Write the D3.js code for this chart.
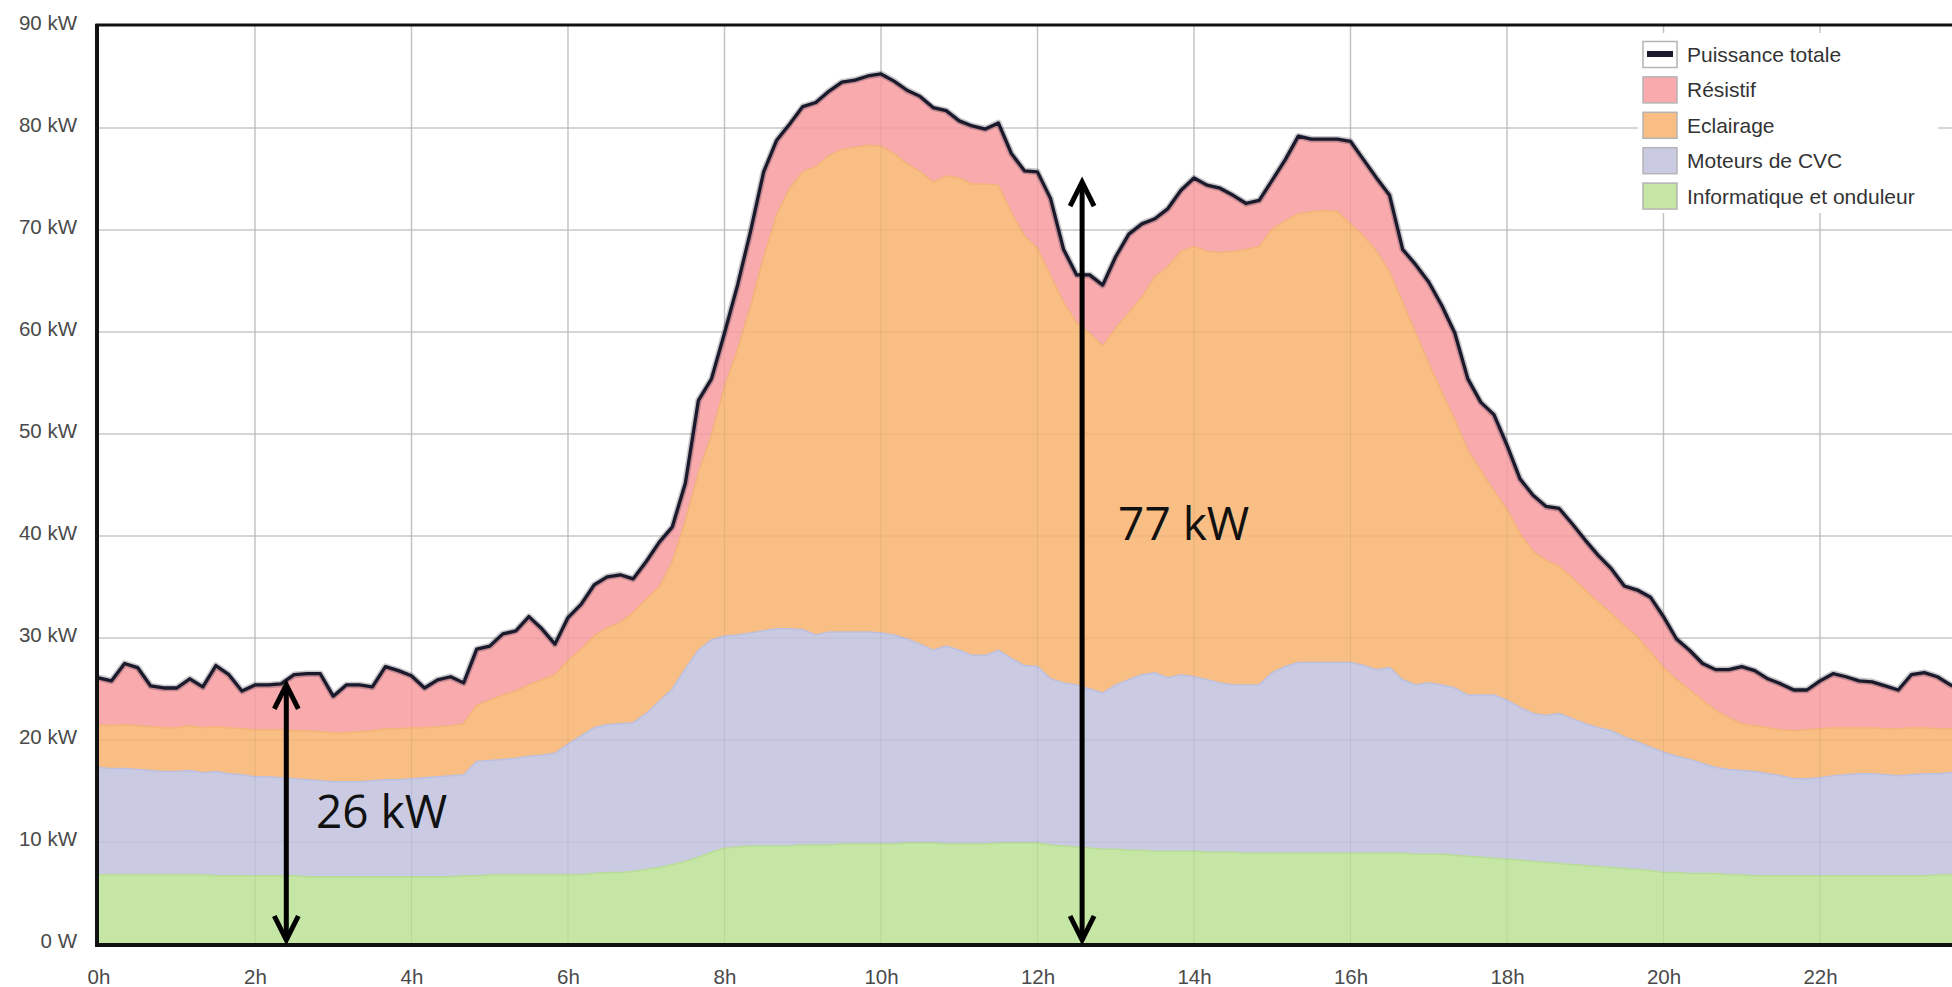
<!DOCTYPE html>
<html>
<head>
<meta charset="utf-8">
<script src="https://cdn.jsdelivr.net/npm/d3@7"></script>
<style>
  body { margin: 0; background: #fff; }
  svg { display: block; font-family: "Liberation Sans", Arial, Helvetica, sans-serif; }
</style>
</head>
<body>
<svg id="chart" width="1952" height="987"></svg>
<script>
// one sample every 10 minutes, from 0h
var stepMinutes = 10;

// kW per series
var informatique = [
  6.8,6.8,6.8,6.8,6.8,6.8,6.8,6.8,6.8,6.7,6.7,6.7,
  6.7,6.7,6.7,6.7,6.6,6.6,6.6,6.6,6.6,6.6,6.6,6.6,
  6.6,6.6,6.6,6.6,6.7,6.7,6.8,6.8,6.8,6.8,6.8,6.8,
  6.8,6.8,6.9,7.0,7.0,7.1,7.3,7.5,7.8,8.1,8.5,9.0,
  9.4,9.5,9.6,9.6,9.6,9.6,9.7,9.7,9.7,9.8,9.8,9.8,
  9.8,9.8,9.9,9.9,9.9,9.8,9.8,9.8,9.8,9.9,9.9,9.9,
  9.9,9.7,9.6,9.5,9.4,9.3,9.3,9.2,9.2,9.1,9.1,9.1,
  9.1,9.0,9.0,9.0,8.9,8.9,8.9,8.9,8.9,8.9,8.9,8.9,
  8.9,8.9,8.9,8.9,8.9,8.8,8.8,8.8,8.7,8.6,8.5,8.4,
  8.3,8.2,8.1,8.0,7.9,7.8,7.7,7.6,7.5,7.4,7.3,7.2,
  7.0,7.0,6.9,6.9,6.9,6.8,6.8,6.7,6.7,6.7,6.7,6.7,
  6.7,6.7,6.7,6.7,6.7,6.7,6.7,6.7,6.7,6.8,6.8,6.8
];
var moteursCVC = [
  10.5,10.4,10.4,10.3,10.2,10.1,10.1,10.2,10.0,10.2,10.0,9.9,
  9.7,9.7,9.6,9.5,9.5,9.4,9.3,9.3,9.3,9.4,9.5,9.5,
  9.6,9.7,9.8,9.9,9.9,11.2,11.2,11.3,11.4,11.6,11.7,11.9,
  12.8,13.6,14.3,14.5,14.6,14.6,15.3,16.3,17.2,18.9,20.3,20.8,
  20.8,20.8,20.9,21.1,21.3,21.3,21.1,20.6,20.9,20.8,20.8,20.8,
  20.7,20.5,20.0,19.5,18.9,19.4,19.0,18.5,18.5,18.9,18.1,17.4,
  17.3,16.3,16.0,15.9,15.6,15.3,16.1,16.7,17.2,17.5,17.0,17.3,
  17.1,16.9,16.6,16.4,16.5,16.5,17.7,18.3,18.7,18.7,18.7,18.7,
  18.7,18.4,18.0,18.2,17.0,16.6,16.8,16.6,16.4,15.8,15.9,16.0,
  15.6,15.0,14.5,14.4,14.7,14.3,13.9,13.6,13.4,12.9,12.5,12.1,
  11.8,11.4,11.2,10.8,10.4,10.3,10.2,10.2,10.0,9.8,9.5,9.5,
  9.6,9.8,9.9,10.0,10.0,9.9,9.8,9.9,10.0,9.9,10.0,10.0
];
var eclairage = [
  4.2,4.2,4.3,4.3,4.3,4.3,4.3,4.4,4.4,4.4,4.5,4.5,
  4.6,4.6,4.7,4.7,4.8,4.8,4.8,4.8,4.9,4.9,5.0,5.0,
  5.0,4.9,4.9,4.9,5.0,5.5,5.9,6.3,6.6,7.0,7.4,7.7,
  8.2,8.5,9.0,9.5,9.9,10.8,11.2,11.2,12.5,14.5,17.4,20.1,
  24.4,28.0,32.0,36.6,40.6,43.2,44.9,45.9,46.7,47.3,47.5,47.7,
  47.7,47.2,46.6,46.3,45.9,46.1,46.3,46.2,46.2,45.6,43.7,42.1,
  41.0,39.5,37.3,35.5,34.9,34.0,35.0,36.0,37.0,38.8,40.3,41.5,
  42.2,42.0,42.2,42.5,42.7,43.0,43.5,43.7,44.0,44.2,44.3,44.2,
  43.0,42.1,41.0,38.8,37.0,34.5,31.3,28.7,26.3,24.0,22.0,20.0,
  18.7,17.0,15.9,15.2,14.4,13.8,13.1,12.3,11.5,10.9,10.3,9.3,
  8.3,7.5,6.8,6.2,5.6,5.1,4.6,4.5,4.5,4.5,4.7,4.8,
  4.8,4.7,4.6,4.5,4.5,4.5,4.6,4.6,4.5,4.4,4.3,4.3
];
var resistif = [
  4.6,4.4,6.0,5.7,4.0,3.9,3.9,4.6,4.0,6.0,5.2,3.7,
  4.4,4.4,4.5,5.5,5.6,5.7,3.6,4.7,4.6,4.3,6.1,5.7,
  5.1,3.9,4.6,4.8,4.0,5.5,5.3,6.0,5.9,6.7,5.0,3.0,
  4.2,4.4,5.0,5.0,4.7,3.3,3.7,4.4,3.4,3.7,7.1,5.5,
  5.3,6.3,7.4,8.4,7.3,6.3,6.4,6.3,6.3,6.6,6.6,6.8,
  7.1,7.1,7.2,7.4,7.3,6.4,5.6,5.7,5.4,6.1,5.8,6.4,
  7.5,7.6,5.2,4.7,5.7,6.0,7.0,7.7,7.2,5.7,5.7,6.0,
  6.7,6.5,6.3,5.5,4.5,4.5,4.8,6.0,7.6,7.1,7.0,7.1,
  8.1,7.5,7.2,7.5,5.2,6.7,8.0,8.5,8.5,7.0,6.7,7.5,
  6.3,5.4,5.5,5.3,5.7,5.3,4.9,4.6,4.4,3.9,4.6,5.4,
  5.0,4.0,3.9,3.6,4.0,4.7,5.6,5.4,4.8,4.5,4.0,3.9,
  4.7,5.3,5.0,4.6,4.5,4.2,3.8,5.2,5.4,5.1,4.3,3.9
];

var seriesKeys = ["informatique", "cvc", "eclairage", "resistif"];
var seriesColors = ["#c5e6a5", "#cacbe3", "#f9be83", "#f8aaad"];
var seriesEdges = ["#b7dd95", "#bcc0e0", "#f3b478", "#f39fa3"];
var legendLabels = ["Puissance totale", "Résistif", "Eclairage", "Moteurs de CVC", "Informatique et onduleur"];
var xTicks = [0, 2, 4, 6, 8, 10, 12, 14, 16, 18, 20, 22];
var yTicks = [0, 10, 20, 30, 40, 50, 60, 70, 80, 90];

var table = informatique.map(function(v, i) {
    return {
        hour: i * stepMinutes / 60,
        informatique: v,
        cvc: moteursCVC[i],
        eclairage: eclairage[i],
        resistif: resistif[i]
    };
});

var svg = d3.select("#chart");
var x = d3.scaleLinear().domain([0, 24]).range([98.5, 1976.5]);
var y = d3.scaleLinear().domain([0, 90]).range([944, 26]);

var stacked = d3.stack().keys(seriesKeys)(table);

svg.append("defs").append("clipPath").attr("id", "plot")
    .append("rect")
    .attr("x", x(0)).attr("y", y(90))
    .attr("width", 1952 - x(0)).attr("height", y(0) - y(90));

// grid under the areas
var grid = svg.append("g");
grid.selectAll(".gx").data(xTicks.filter(function(d) { return d > 0; }))
    .enter().append("line")
    .attr("x1", function(d) { return x(d); }).attr("x2", function(d) { return x(d); })
    .attr("y1", y(90)).attr("y2", y(0))
    .attr("stroke", "#cfcfcf").attr("stroke-width", 1.5);
grid.selectAll(".gy").data(yTicks.filter(function(d) { return d > 0 && d < 90; }))
    .enter().append("line")
    .attr("x1", x(0)).attr("x2", 1952)
    .attr("y1", function(d) { return y(d); }).attr("y2", function(d) { return y(d); })
    .attr("stroke", "#cfcfcf").attr("stroke-width", 1.5);

var plot = svg.append("g").attr("clip-path", "url(#plot)");

var area = d3.area()
    .x(function(d) { return x(d.data.hour); })
    .y0(function(d) { return y(d[0]); })
    .y1(function(d) { return y(d[1]); });
var topLine = d3.line()
    .x(function(d) { return x(d.data.hour); })
    .y(function(d) { return y(d[1]); });

plot.selectAll(".layer").data(stacked).enter().append("path")
    .attr("d", area)
    .attr("fill", function(d, i) { return seriesColors[i]; });

plot.selectAll(".edge").data(stacked.slice(0, 3)).enter().append("path")
    .attr("d", topLine)
    .attr("fill", "none")
    .attr("stroke", function(d, i) { return seriesEdges[i]; })
    .attr("stroke-width", 1.5);

// faint grid seen through the fills
var overGrid = plot.append("g");
overGrid.selectAll("line.v").data(xTicks.filter(function(d) { return d > 0; }))
    .enter().append("line")
    .attr("x1", function(d) { return x(d); }).attr("x2", function(d) { return x(d); })
    .attr("y1", y(90)).attr("y2", y(0))
    .attr("stroke", "rgba(0,0,0,0.06)").attr("stroke-width", 1.2);
overGrid.selectAll("line.h").data(yTicks.filter(function(d) { return d > 0 && d < 90; }))
    .enter().append("line")
    .attr("x1", x(0)).attr("x2", 1952)
    .attr("y1", function(d) { return y(d); }).attr("y2", function(d) { return y(d); })
    .attr("stroke", "rgba(0,0,0,0.06)").attr("stroke-width", 1.2);

// total power line
var totalSeries = stacked[stacked.length - 1];
plot.append("path")
    .attr("d", topLine(totalSeries))
    .attr("fill", "none")
    .attr("stroke", "rgba(30,30,50,0.25)")
    .attr("stroke-width", 6.5)
    .attr("stroke-linejoin", "round");
plot.append("path")
    .attr("d", topLine(totalSeries))
    .attr("fill", "none")
    .attr("stroke", "#1b1a2c")
    .attr("stroke-width", 3.3)
    .attr("stroke-linejoin", "round");

// frame
svg.append("line")
    .attr("x1", x(0) - 1.5).attr("x2", x(0) - 1.5)
    .attr("y1", y(90) - 2).attr("y2", y(0) + 3)
    .attr("stroke", "#111").attr("stroke-width", 4);
svg.append("line")
    .attr("x1", x(0) - 3).attr("x2", 1952)
    .attr("y1", y(0) + 1).attr("y2", y(0) + 1)
    .attr("stroke", "#111").attr("stroke-width", 4);
svg.append("line")
    .attr("x1", x(0) - 3).attr("x2", 1952)
    .attr("y1", y(90) - 1).attr("y2", y(90) - 1)
    .attr("stroke", "#111").attr("stroke-width", 3);

// axes
var yAxis = svg.append("g")
    .attr("transform", "translate(" + x(0) + ",0)")
    .call(d3.axisLeft(y).tickValues(yTicks).tickSize(0).tickPadding(21.5)
        .tickFormat(function(d) { return d === 0 ? "0 W" : d + " kW"; }));
yAxis.select(".domain").remove();
yAxis.selectAll("text")
    .attr("dy", "0.15em")
    .attr("font-size", 20.5)
    .attr("font-family", "Liberation Sans, Arial, sans-serif")
    .attr("fill", "#4a4a4a");

var xAxis = svg.append("g")
    .attr("transform", "translate(0," + y(0) + ")")
    .call(d3.axisBottom(x).tickValues(xTicks).tickSize(0).tickPadding(25)
        .tickFormat(function(d) { return d + "h"; }));
xAxis.select(".domain").remove();
xAxis.selectAll("text")
    .attr("font-size", 20.5)
    .attr("font-family", "Liberation Sans, Arial, sans-serif")
    .attr("fill", "#4a4a4a");

// legend
var legend = svg.append("g");
legend.append("rect")
    .attr("x", 1638).attr("y", 33)
    .attr("width", 300).attr("height", 180)
    .attr("fill", "#fff");
var legendFills = ["#fff", seriesColors[3], seriesColors[2], seriesColors[1], seriesColors[0]];
var item = legend.selectAll(".item").data(legendLabels).enter().append("g")
    .attr("transform", function(d, i) { return "translate(1643," + (54.5 + i * 35.4) + ")"; });
item.append("rect")
    .attr("x", 0).attr("y", -13)
    .attr("width", 34).attr("height", 26)
    .attr("fill", function(d, i) { return legendFills[i]; })
    .attr("stroke", "#b4b4b4").attr("stroke-width", 1.5);
item.filter(function(d, i) { return i === 0; }).append("rect")
    .attr("x", 4).attr("y", -3.5)
    .attr("width", 26).attr("height", 6)
    .attr("fill", "#1b1a2c");
item.append("text")
    .attr("x", 44).attr("y", 7.5)
    .attr("font-size", 21)
    .attr("fill", "#333")
    .text(function(d) { return d; });

// annotations
var marks = [
    { hour: 2.4, from: 0, to: 25.4, label: "26 kW", lx: 2.78, ly: 11.4 },
    { hour: 12.57, from: 0, to: 74.7, label: "77 kW", lx: 13.03, ly: 39.6 }
];
var notes = svg.append("g");
marks.forEach(function(m) {
    var ax = x(m.hour), yTop = y(m.to), yBot = y(m.from) - 4;
    notes.append("line")
        .attr("x1", ax).attr("x2", ax)
        .attr("y1", yTop + 2).attr("y2", yBot - 2)
        .attr("stroke", "#000").attr("stroke-width", 5);
    notes.append("path")
        .attr("d", "M" + (ax - 12) + "," + (yTop + 24) + "L" + ax + "," + yTop + "L" + (ax + 12) + "," + (yTop + 24))
        .attr("fill", "none").attr("stroke", "#000").attr("stroke-width", 5)
        .attr("stroke-linejoin", "miter");
    notes.append("path")
        .attr("d", "M" + (ax - 12) + "," + (yBot - 24) + "L" + ax + "," + yBot + "L" + (ax + 12) + "," + (yBot - 24))
        .attr("fill", "none").attr("stroke", "#000").attr("stroke-width", 5)
        .attr("stroke-linejoin", "miter");
    notes.append("text")
        .attr("x", x(m.lx)).attr("y", y(m.ly))
        .attr("font-family", "Open Sans, Noto Sans, sans-serif")
        .attr("font-size", 46)
        .attr("fill", "#111")
        .text(m.label);
});
</script>
</body>
</html>
